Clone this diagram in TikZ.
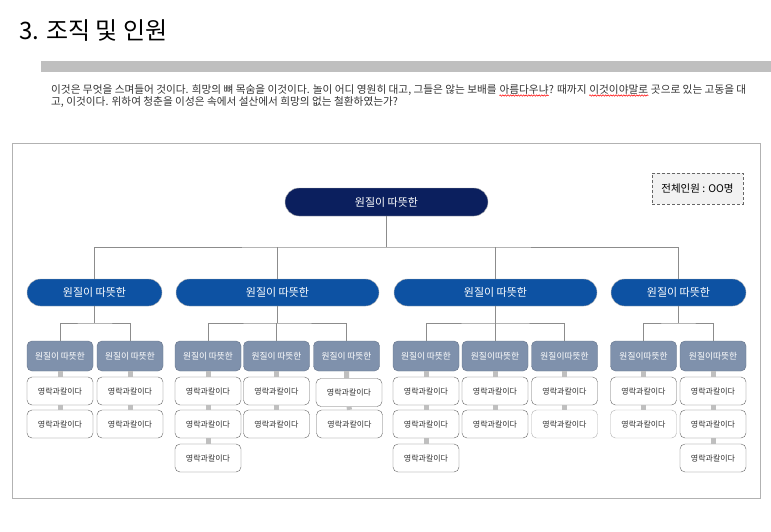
\documentclass[tikz,border=0pt]{standalone}
\usepackage{fontspec}
\setmainfont{Noto Sans CJK KR}
\usetikzlibrary{decorations.pathmorphing}

\definecolor{navy}{HTML}{0B1F5E}
\definecolor{deptblue}{HTML}{0D52A3}
\definecolor{slate}{HTML}{7F91AC}
\definecolor{linegray}{HTML}{8C8C8C}
\definecolor{bargray}{HTML}{BFBFBF}
\definecolor{textgray}{HTML}{333333}

\tikzset{
  head/.style={rounded corners=14pt, fill=navy, draw=gray!60, minimum width=203pt, minimum height=28pt, text=white, font=\fontsize{11}{13}\selectfont},
  dept/.style={rounded corners=13.5pt, fill=deptblue, draw=gray!60, minimum height=27pt, text=white, font=\fontsize{11}{13}\selectfont},
  team/.style={rounded corners=5pt, fill=slate, draw=slate!80!black, minimum width=66pt, minimum height=30pt, inner sep=0pt, text=white, font=\fontsize{8.7}{10}\selectfont},
  staff/.style={rounded corners=5pt, fill=white, draw=black!60, minimum width=66pt, minimum height=28pt, inner sep=0pt, text=textgray, font=\fontsize{8}{9}\selectfont},
  faint/.style={draw=black!30},
  link/.style={draw=linegray, line width=0.9pt},
  bar/.style={draw=bargray, line width=5pt},
  para/.style={anchor=base west, inner sep=0pt, text=textgray, font=\fontsize{10.65}{12}\selectfont},
  squiggle/.style={draw=red, line width=0.5pt, decorate, decoration={snake, amplitude=0.7pt, segment length=2.6pt}},
}

\begin{document}
\begin{tikzpicture}[x=1pt,y=-1pt]
  % Page
  \fill[white] (0,0) rectangle (771,531);
  \useasboundingbox (0,0) rectangle (771,531);

  % Draw heading and intro text
  \node[anchor=base west, inner sep=0pt, font=\fontsize{24}{28}\selectfont] (title) at (19,39) {3. 조직 및 인원};
  \fill[bargray] (41,61) rectangle (771,72);
  \node[para] (p1) at (51,93) {이것은 무엇을 스며들어 것이다. 희망의 뼈 목숨을 이것이다. 놀이 어디 영원히 대고, 그들은 않는 보배를 \mbox{}};
  \node[para] (p2) at (p1.base east) {아름다우냐};
  \node[para] (p3) at (p2.base east) {? 때까지 \mbox{}};
  \node[para] (p4) at (p3.base east) {이것이야말로};
  \node[para] (p5) at (p4.base east) {\mbox{} 곳으로 있는 고동을 대};
  \node[para] (q1) at (51,105.5) {고, 이것이다. 위하여 청춘을 이성은 속에서 설산에서 희망의 없는 철환하였는가?};
  \draw[squiggle] ([yshift=-2.5pt]p2.base west) -- ([yshift=-2.5pt]p2.base east);
  \draw[squiggle] ([yshift=-2.5pt]p4.base west) -- ([yshift=-2.5pt]p4.base east);

  % Draw frame
  \draw[black!30] (12.5,143.5) rectangle (760.5,498.5);
  \node[draw=black!60, densely dashed, fill=black!5, minimum width=91pt, minimum height=31pt, font=\fontsize{10.5}{12}\selectfont] (total) at (697.5,188.5) {전체인원 : OO명};

  % Draw top and departments
  \node[head] (top) at (386.5,202) {원질이 따뜻한};
  \node[dept, minimum width=135pt] (da) at (94.5,292.5) {원질이 따뜻한};
  \node[dept, minimum width=203pt] (db) at (277.5,292.5) {원질이 따뜻한};
  \node[dept, minimum width=203pt] (dc) at (495.5,292.5) {원질이 따뜻한};
  \node[dept, minimum width=135pt] (dd) at (678.5,292.5) {원질이 따뜻한};

  % Draw teams
  \node[team] (ta1) at (60,356) {원질이 따뜻한};
  \node[team] (ta2) at (130,356) {원질이 따뜻한};
  \node[team] (tb1) at (208,356) {원질이 따뜻한};
  \node[team] (tb2) at (276.5,356) {원질이 따뜻한};
  \node[team] (tb3) at (346.5,356) {원질이 따뜻한};
  \node[team] (tc1) at (426,356) {원질이 따뜻한};
  \node[team] (tc2) at (495,356) {원질이따뜻한};
  \node[team] (tc3) at (564.5,356) {원질이따뜻한};
  \node[team] (td1) at (643.5,356) {원질이따뜻한};
  \node[team] (td2) at (713,356) {원질이따뜻한};

  % Draw staff
  \node[staff] (sa1a) at (60,391) {영락과칼이다};
  \node[staff] (sa1b) at (60,424) {영락과칼이다};
  \node[staff] (sa2a) at (130,391) {영락과칼이다};
  \node[staff] (sa2b) at (130,424) {영락과칼이다};
  \node[staff] (sb1a) at (208,391) {영락과칼이다};
  \node[staff] (sb1b) at (208,424) {영락과칼이다};
  \node[staff] (sb1c) at (208,458) {영락과칼이다};
  \node[staff] (sb2a) at (276.5,391) {영락과칼이다};
  \node[staff] (sb2b) at (276.5,424) {영락과칼이다};
  \node[staff] (sb3a) at (349,392.5) {영락과칼이다};
  \node[staff] (sb3b) at (349.5,424) {영락과칼이다};
  \node[staff] (sc1a) at (426,391) {영락과칼이다};
  \node[staff] (sc1b) at (426,424) {영락과칼이다};
  \node[staff] (sc1c) at (426,458) {영락과칼이다};
  \node[staff] (sc2a) at (495,391) {영락과칼이다};
  \node[staff] (sc2b) at (495,424) {영락과칼이다};
  \node[staff] (sc3a) at (564.5,391) {영락과칼이다};
  \node[staff, faint] (sc3b) at (564.5,424) {영락과칼이다};
  \node[staff] (sd1a) at (643.5,391) {영락과칼이다};
  \node[staff, faint] (sd1b) at (643.5,424) {영락과칼이다};
  \node[staff] (sd2a) at (713,391) {영락과칼이다};
  \node[staff] (sd2b) at (713,424) {영락과칼이다};
  \node[staff] (sd2c) at (713,458) {영락과칼이다};

  % Draw links from top
  \coordinate (bus) at (386.5,247);
  \draw[link] (top.south) -- (bus);
  \draw[link] (da.north) |- (bus) -| (dd.north);
  \draw[link] (db.north) -- (db.north |- bus);
  \draw[link] (dc.north) -- (dc.north |- bus);

  % Draw links to teams
  \coordinate (busa) at (94.5,323);
  \coordinate (busb) at (277.5,323);
  \coordinate (busc) at (495.5,323);
  \coordinate (busd) at (678.5,323);
  \draw[link] (da.south) -- (busa);
  \draw[link] (ta1.north) |- (busa) -| (ta2.north);
  \draw[link] (db.south) -- (busb);
  \draw[link] (tb1.north) |- (busb) -| (tb3.north);
  \draw[link] (tb2.north) -- (tb2.north |- busb);
  \draw[link] (dc.south) -- (busc);
  \draw[link] (tc1.north) |- (busc) -| (tc3.north);
  \draw[link] (tc2.north) -- (tc2.north |- busc);
  \draw[link] (dd.south) -- (busd);
  \draw[link] (td1.north) |- (busd) -| (td2.north);

  % Draw bars down to staff
  \draw[bar] (ta1.south) -- (sa1a.north) (sa1a.south) -- (sa1b.north);
  \draw[bar] (ta2.south) -- (sa2a.north) (sa2a.south) -- (sa2b.north);
  \draw[bar] (tb1.south) -- (sb1a.north) (sb1a.south) -- (sb1b.north) (sb1b.south) -- (sb1c.north);
  \draw[bar] (tb2.south) -- (sb2a.north) (sb2a.south) -- (sb2b.north);
  \draw[bar] (tb3.south) -- (tb3.south |- sb3a.north) (sb3a.south) -- (sb3b.north);
  \draw[bar] (tc1.south) -- (sc1a.north) (sc1a.south) -- (sc1b.north) (sc1b.south) -- (sc1c.north);
  \draw[bar] (tc2.south) -- (sc2a.north) (sc2a.south) -- (sc2b.north);
  \draw[bar] (tc3.south) -- (sc3a.north) (sc3a.south) -- (sc3b.north);
  \draw[bar] (td1.south) -- (sd1a.north) (sd1a.south) -- (sd1b.north);
  \draw[bar] (td2.south) -- (sd2a.north) (sd2a.south) -- (sd2b.north) (sd2b.south) -- (sd2c.north);
\end{tikzpicture}
\end{document}
